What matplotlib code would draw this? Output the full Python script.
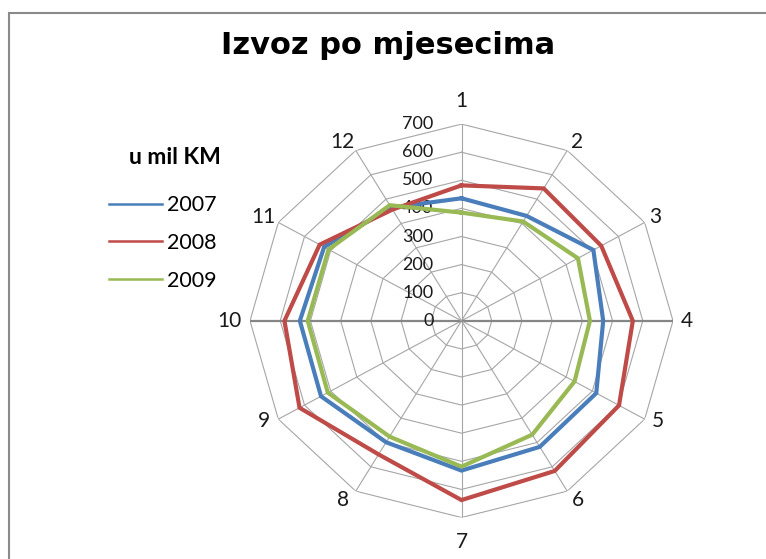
import matplotlib.pyplot as plt
from matplotlib.patches import Rectangle
from matplotlib.lines import Line2D
import numpy as np

# Monthly exports (u mil KM)
months = ['1', '2', '3', '4', '5', '6', '7', '8', '9', '10', '11', '12']
years = ['2007', '2008', '2009']
export_2007 = [436, 431, 504, 469, 515, 518, 533, 499, 537, 535, 525, 465]
export_2008 = [482, 544, 534, 567, 602, 617, 638, 549, 619, 586, 542, 457]
export_2009 = [385, 408, 445, 425, 432, 468, 519, 476, 511, 509, 508, 475]
r_ticks = [0, 100, 200, 300, 400, 500, 600, 700]

colors = ['#4A7EBB', '#BE4B48', '#98B954']
grid_color = '#A6A6A6'

# pixel offsets of the month labels from the outer ring
label_offsets = [(0, 23), (10, 8), (11, 5), (14, 0), (13, -2), (11, -9),
                 (0, -24), (-13, -9), (-14, -2), (-21, 0), (-15, 5), (-13, 8)]

fig = plt.figure(figsize=(7.66, 5.59), dpi=100)

# chart area border (open to the right and bottom)
fig.patches.append(Rectangle((9 / 766, -0.05), 1.0, 1.05 - 12.5 / 559,
                             transform=fig.transFigure, fill=False,
                             edgecolor='#8A8A8A', linewidth=1.5))

# the original chart is slightly stretched sideways, so the polar box is not square
ax = fig.add_axes([250 / 766, 41.5 / 559, 423 / 766, 393.4 / 559], projection='polar')
ax.set_aspect('auto')
ax.set_theta_zero_location('N')
ax.set_theta_direction(-1)
ax.set_ylim(0, 700)
ax.grid(False)
ax.spines['polar'].set_visible(False)
ax.set_xticks([])
ax.set_yticks([])
ax.patch.set_alpha(0)

theta = np.linspace(0, 2 * np.pi, len(months), endpoint=False)
theta_closed = np.append(theta, theta[0])

# polygon gridlines
for r in r_ticks[1:]:
    ax.plot(theta_closed, [r] * len(theta_closed), color=grid_color, lw=0.8, zorder=1)

# spokes
for i, t in enumerate(theta):
    if months[i] in ('4', '10'):
        ax.plot([t, t], [0, 700], color='#868686', lw=1.6, zorder=1)
    else:
        ax.plot([t, t], [0, 700], color=grid_color, lw=0.8, zorder=1)

# series
for vals, c in zip([export_2007, export_2008, export_2009], colors):
    v = vals + [vals[0]]
    ax.plot(theta_closed, v, color=c, lw=3.0, zorder=3, solid_joinstyle='miter')

# radial value labels
for r in r_ticks:
    ax.annotate(str(r), xy=(0, r), xytext=(-28, 0), textcoords='offset pixels',
                ha='right', va='center', fontsize=13, family='Lato',
                color='#1a1a1a', zorder=2)

# month labels
for t, m, off in zip(theta, months, label_offsets):
    ax.annotate(m, xy=(t, 700), xytext=off, textcoords='offset pixels',
                ha='center', va='center', fontsize=15, family='Lato',
                color='#1a1a1a', annotation_clip=False)

fig.text(388 / 766, 1 - 46 / 559, 'Izvoz po mjesecima', ha='center', va='center',
         fontsize=22, fontweight='bold', family='DejaVu Sans')

# unit label above the legend
fig.text(175 / 766, 1 - 157 / 559, 'u mil KM', ha='center', va='center',
         fontsize=16.5, fontweight='bold', family='Lato')

handles = [Line2D([], [], color=c, lw=1.8) for c in colors]
leg = fig.legend(handles, years, loc='upper left',
                 bbox_to_anchor=(90 / 766, 1 - 176 / 559), frameon=False,
                 handlelength=2.45, handletextpad=0.25,
                 labelspacing=0.82, prop={'family': 'Lato', 'size': 15.5})

fig.savefig('out.png', dpi=100)
